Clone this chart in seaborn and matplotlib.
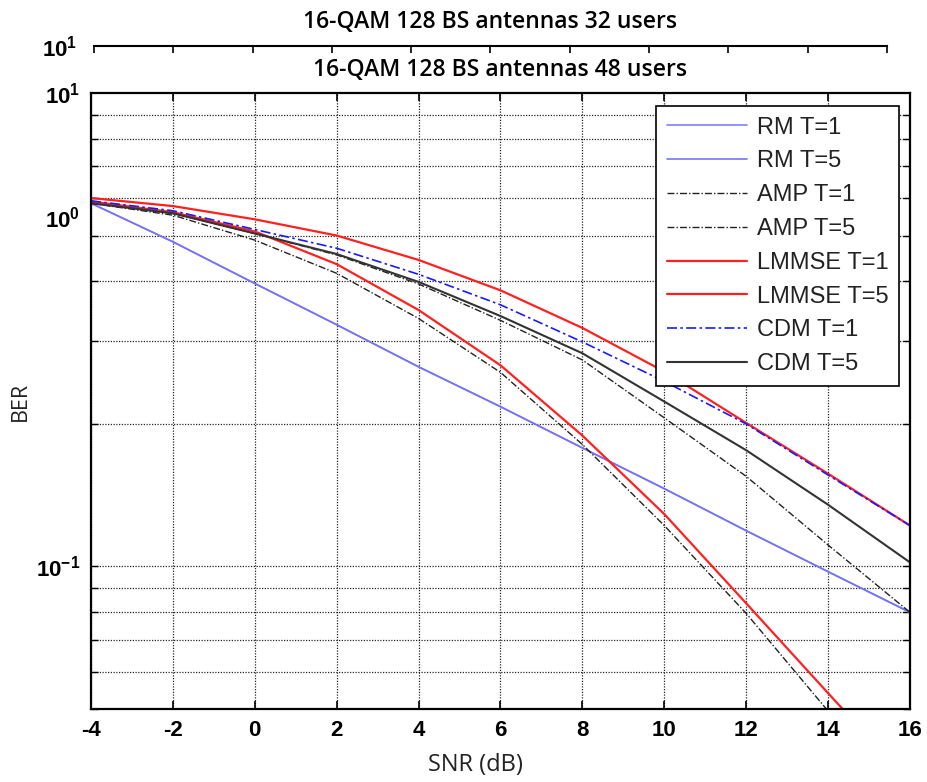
import numpy as np
import pandas as pd
import matplotlib
matplotlib.use("Agg")
import matplotlib.pyplot as plt
import seaborn as sns
from matplotlib.ticker import FixedLocator, NullFormatter

# ---------------- data ----------------
SNR_DB = [-4, -2, 0, 2, 4, 6, 8, 10, 12, 14, 16]

RM_T1 = [0.585, 0.485, 0.396, 0.324, 0.264, 0.2175, 0.178, 0.146, 0.119, 0.0975, 0.080]
RM_T5 = [0.585, 0.485, 0.396, 0.324, 0.264, 0.2175, 0.178, 0.146, 0.119, 0.0975, 0.080]
AMP_T1 = [0.585, 0.557, 0.505, 0.455, 0.395, 0.331, 0.273, 0.206, 0.155, 0.111, 0.080]
AMP_T5 = [0.585, 0.552, 0.489, 0.416, 0.334, 0.257, 0.181, 0.122, 0.0796, 0.0495, 0.031]
LMMSE_T1 = [0.600, 0.577, 0.541, 0.500, 0.444, 0.383, 0.319, 0.258, 0.201, 0.157, 0.122]
LMMSE_T5 = [0.590, 0.560, 0.510, 0.435, 0.348, 0.266, 0.189, 0.129, 0.0836, 0.054, 0.035]
CDM_T1 = [0.592, 0.564, 0.515, 0.470, 0.414, 0.357, 0.298, 0.246, 0.200, 0.156, 0.122]
CDM_T5 = [0.585, 0.557, 0.505, 0.457, 0.399, 0.338, 0.282, 0.223, 0.176, 0.135, 0.102]

SERIES_LABELS = ["RM T=1", "RM T=5", "AMP T=1", "AMP T=5",
                 "LMMSE T=1", "LMMSE T=5", "CDM T=1", "CDM T=5"]
SERIES_VALUES = [RM_T1, RM_T5, AMP_T1, AMP_T5, LMMSE_T1, LMMSE_T5, CDM_T1, CDM_T5]

X_TICKS = [-4, -2, 0, 2, 4, 6, 8, 10, 12, 14, 16]
X_TICK_LABELS = ["-4", "-2", "0", "2", "4", "6", "8", "10", "12", "14", "16"]
Y_TICKS = [0.1, 0.547, 1.0]
Y_TICK_LABELS = [r"$\mathbf{10^{-1}}$", r"$\mathbf{10^{0}}$", r"$\mathbf{10^{1}}$"]
Y_GRID = [0.05, 0.06, 0.07, 0.08, 0.09, 0.1, 0.2, 0.3, 0.4, 0.5, 0.6, 0.7, 0.8, 0.9]

TITLE_BACK = "16-QAM 128 BS antennas 32 users"
TITLE_FRONT = "16-QAM 128 BS antennas 48 users"
X_LABEL = "SNR (dB)"
Y_LABEL = "BER"

# ---------------- styling ----------------
sns.set_theme(style="white")
plt.rcParams["font.family"] = ["Liberation Sans", "DejaVu Sans"]
plt.rcParams["mathtext.fontset"] = "custom"
plt.rcParams["mathtext.rm"] = "Liberation Sans"
plt.rcParams["mathtext.bf"] = "Liberation Sans:bold"
plt.rcParams["mathtext.it"] = "Liberation Sans:italic"

STYLES = {
    "RM T=1": dict(color="#7f7fff", linestyle="-", linewidth=1.2),
    "RM T=5": dict(color="#7a72f5", linestyle="-", linewidth=1.2),
    "AMP T=1": dict(color="#222222", linestyle=(0, (5, 1.5, 1, 1.5)), linewidth=1.0),
    "AMP T=5": dict(color="#222222", linestyle=(0, (5, 1.5, 1, 1.5)), linewidth=1.0),
    "LMMSE T=1": dict(color="#ff2020", linestyle="-", linewidth=1.6),
    "LMMSE T=5": dict(color="#ff2020", linestyle="-", linewidth=1.6),
    "CDM T=1": dict(color="#1a1aff", linestyle=(0, (6, 2, 1.5, 2)), linewidth=1.2),
    "CDM T=5": dict(color="#333333", linestyle="-", linewidth=1.5),
}

rows = []
for lab, vals in zip(SERIES_LABELS, SERIES_VALUES):
    for x, v in zip(SNR_DB, vals):
        rows.append({"snr": x, "ber": v, "series": lab})
df = pd.DataFrame(rows)

W, H = 928, 782
fig = plt.figure(figsize=(W / 100, H / 100), dpi=100)

# back (partially hidden) axes of the 32-user figure
ax_back = fig.add_axes([94 / W, 1 - 60 / H, 793 / W, 14 / H])
ax_back.set_xlim(-4, 16)
ax_back.set_ylim(0, 1)
ax_back.set_xticks(X_TICKS)
ax_back.tick_params(axis="x", which="both", direction="in", top=True, bottom=False,
                    labeltop=False, labelbottom=False, length=5, width=1.2, color="black")
ax_back.set_yticks([1.0])
ax_back.set_yticklabels([r"$\mathbf{10^{1}}$"])
ax_back.tick_params(axis="y", length=0, pad=12, labelsize=16, labelcolor="black")
for s in ["left", "right", "bottom"]:
    ax_back.spines[s].set_visible(False)
ax_back.spines["top"].set_color("black")
ax_back.spines["top"].set_linewidth(1.5)
ax_back.set_title(TITLE_BACK, fontsize=16.5, fontfamily="Open Sans", fontweight="semibold",
                  pad=13, color="black")
ax_back.patch.set_alpha(0)

# front axes (48 users)
ax = fig.add_axes([91 / W, 1 - 709 / H, 819 / W, 616 / H])
for lab in SERIES_LABELS:
    sub = df[df["series"] == lab]
    sns.lineplot(data=sub, x="snr", y="ber", ax=ax, label=lab, estimator=None,
                 sort=False, **STYLES[lab])

ax.set_yscale("log")
ax.set_xlim(-4, 16)
ax.set_ylim(0.05, 1.0)

ax.set_xticks(X_TICKS)
ax.set_xticklabels(X_TICK_LABELS, fontweight="bold", fontsize=16)
ax.set_yticks(Y_TICKS)
ax.set_yticklabels(Y_TICK_LABELS, fontsize=16)
ax.yaxis.set_minor_locator(FixedLocator(Y_GRID))
ax.yaxis.set_minor_formatter(NullFormatter())
ax.yaxis.remove_overlapping_locs = False

ax.tick_params(axis="x", which="major", direction="in", top=True, bottom=True,
               length=6, width=1.2, color="black", pad=8, labelcolor="black")
ax.tick_params(axis="y", which="major", length=0, pad=8, labelcolor="black")
ax.tick_params(axis="y", which="minor", direction="in", left=True, right=True,
               length=5, width=1.0, color="black")

ax.grid(False)
ax.xaxis.grid(True, which="major", color="black", linestyle=(0, (1, 1.2)), linewidth=0.9, alpha=0.85)
ax.yaxis.grid(True, which="minor", color="black", linestyle=(0, (1, 1.2)), linewidth=0.9, alpha=0.85)
ax.set_axisbelow(True)

for s in ax.spines.values():
    s.set_color("black")
    s.set_linewidth(1.6)

ax.set_xlabel(X_LABEL, fontsize=17, fontfamily="Open Sans", color="#222222")
ax.xaxis.set_label_coords(0.47, -0.072)
ax.set_ylabel(Y_LABEL, fontsize=15.5, fontfamily="Open Sans", color="#222222")
ax.yaxis.set_label_coords(-0.074, 0.5)
ax.set_title(TITLE_FRONT, fontsize=16.5, fontfamily="Open Sans", fontweight="semibold",
             pad=12, color="black")

leg = ax.legend(loc="upper right", bbox_to_anchor=(0.9866, 0.979), borderaxespad=0,
                frameon=True, fancybox=False, framealpha=1, edgecolor="black",
                fontsize=17, handlelength=3.4, handletextpad=0.4, labelspacing=0.5,
                borderpad=0.45)
leg.get_frame().set_linewidth(1.2)
for t in leg.get_texts():
    t.set_color("#222222")

fig.savefig("out.png", dpi=100)
